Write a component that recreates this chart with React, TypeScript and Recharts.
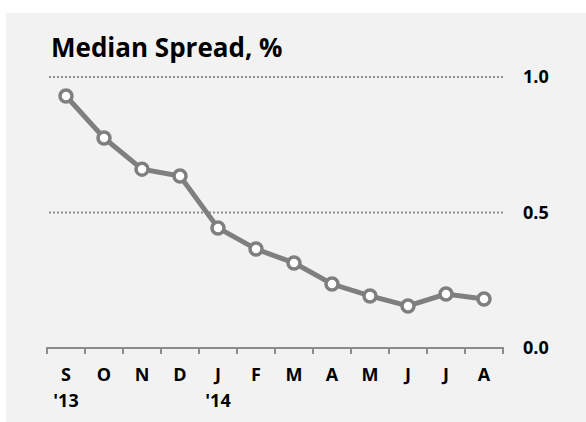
import React from 'react';
import { LineChart, Line, XAxis, YAxis, ReferenceLine } from 'recharts';

const periods = ['2013-09', '2013-10', '2013-11', '2013-12', '2014-01', '2014-02', '2014-03', '2014-04', '2014-05', '2014-06', '2014-07', '2014-08'];
const monthLabels = ['S', 'O', 'N', 'D', 'J', 'F', 'M', 'A', 'M', 'J', 'J', 'A'];
const yearLabels = ["'13", '', '', '', "'14", '', '', '', '', '', '', ''];
const medianSpread = [0.93, 0.775, 0.66, 0.635, 0.443, 0.365, 0.314, 0.236, 0.192, 0.155, 0.199, 0.181];
const yTicks = [0, 0.5, 1.0];
const gridValues = [0.5, 1.0];

const data = periods.map((p, i) => ({
  period: p,
  month: monthLabels[i],
  year: yearLabels[i],
  spread: medianSpread[i],
}));

const FONT = '"Open Sans", "Liberation Sans", sans-serif';
const AXIS_GRAY = '#8c8c8c';

const MonthTick = (props: any) => {
  const { x, y, payload, index } = props;
  const half = payload && payload.offset ? payload.offset : 19;
  const i = index ?? payload.index;
  return (
    <g>
      <line x1={x - half} y1={y - 1} x2={x - half} y2={y + 6} stroke={AXIS_GRAY} strokeWidth={2} />
      {i === periods.length - 1 && (
        <line x1={x + half} y1={y - 1} x2={x + half} y2={y + 6} stroke={AXIS_GRAY} strokeWidth={2} />
      )}
      <text x={x} y={y + 33} textAnchor="middle" fontFamily={FONT} fontWeight={700} fontSize={18} fill="#000">
        {monthLabels[i]}
      </text>
      {yearLabels[i] && (
        <text x={x} y={y + 59} textAnchor="middle" fontFamily={FONT} fontWeight={700} fontSize={18} fill="#000">
          {yearLabels[i]}
        </text>
      )}
    </g>
  );
};

const App: React.FC = () => {
  return (
    <>
      <style>{'html, body { background: #f2f2f2; overflow: hidden; }'}</style>
      <div style={{ position: 'fixed', left: 0, top: 0, width: 600, height: 440, background: '#f2f2f2', overflow: 'hidden' }}>
        <div style={{ position: 'absolute', left: 0, top: 0, width: 600, height: 13, background: '#fff' }} />
        <div style={{ position: 'absolute', left: 0, top: 0, width: 6, height: 440, background: '#fff' }} />
        <div
          style={{
            position: 'absolute',
            left: 51,
            top: 32,
            fontFamily: FONT,
            fontWeight: 700,
            fontSize: 26,
            lineHeight: '30px',
            color: '#000',
            whiteSpace: 'nowrap',
          }}
        >
          Median Spread, %
        </div>
        <div style={{ position: 'absolute', left: 0, top: 0 }}>
          <LineChart width={586} height={422} data={data} margin={{ top: 77, right: 23, bottom: 14, left: 47 }}>
            {gridValues.map((v) => (
              <ReferenceLine key={v} y={v} stroke={AXIS_GRAY} strokeWidth={2} strokeDasharray="2 2" ifOverflow="extendDomain" />
            ))}
            <XAxis
              dataKey="period"
              scale="band"
              height={60}
              axisLine={{ stroke: AXIS_GRAY, strokeWidth: 2 }}
              tickLine={false}
              tickSize={0}
              tickMargin={0}
              interval={0}
              tick={<MonthTick />}
            />
            <YAxis
              orientation="right"
              width={60}
              domain={[0, 1]}
              ticks={yTicks}
              axisLine={false}
              tickLine={false}
              tickSize={0}
              tickMargin={20}
              tickFormatter={(v: number) => v.toFixed(1)}
              tick={{ fill: '#000', fontFamily: FONT, fontWeight: 700, fontSize: 18 }}
            />
            <Line
              type="linear"
              dataKey="spread"
              stroke="#7f7f7f"
              strokeWidth={5}
              dot={{ r: 6, fill: '#fff', stroke: '#7f7f7f', strokeWidth: 3.5 }}
              activeDot={false}
              isAnimationActive={false}
            />
          </LineChart>
        </div>
      </div>
    </>
  );
};

export default App;
